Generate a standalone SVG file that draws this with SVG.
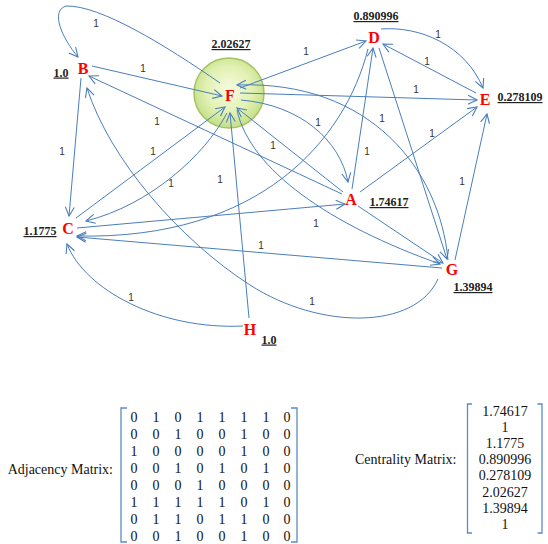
<svg xmlns="http://www.w3.org/2000/svg" width="548" height="544" viewBox="0 0 548 544">
<defs>
 <radialGradient id="gF" cx="50%" cy="45%" r="55%">
  <stop offset="0" stop-color="#f6fbe2"/>
  <stop offset="0.6" stop-color="#e2f1b2"/>
  <stop offset="1" stop-color="#c3df88"/>
 </radialGradient>
 <marker id="ar" viewBox="-10 -6 12 12" refX="0" refY="0" markerWidth="12" markerHeight="12" markerUnits="userSpaceOnUse" orient="auto">
  <path d="M-9,-4.5 L0,0 L-9,4.5" fill="none" stroke="#4a7ebb" stroke-width="1.1"/>
 </marker>
</defs>
<style>
 .e{fill:none;stroke:#4a7ebb;stroke-width:1;marker-end:url(#ar)}
 .n{font-family:"Liberation Serif",serif;font-weight:bold;font-size:16px;fill:#ff0000;text-anchor:middle}
 .v{font-family:"Liberation Serif",serif;font-weight:bold;font-size:12px;fill:#222;text-anchor:middle;text-decoration:underline}
 .w{font-family:"Liberation Sans",sans-serif;font-size:10px;fill:#333;text-anchor:middle}
 .m{font-family:"Liberation Serif",serif;font-size:14px;fill:#111;text-anchor:middle}
 .lb{font-family:"Liberation Serif",serif;font-size:14px;fill:#111}
 .br{fill:none;stroke:#5b8ac4;stroke-width:1.3}
</style>
<rect width="548" height="544" fill="#ffffff"/>
<circle id="F-circle" cx="229" cy="93" r="35" fill="url(#gF)" stroke="#a6c262" stroke-width="1.5"/>
<g id="connectors">
 <path class="e" d="M342,194 L89,76"/>
 <path class="e" d="M352,189 L373,48"/>
 <path class="e" d="M360,192 L477,107"/>
 <path class="e" d="M343,192 L237,108"/>
 <path class="e" d="M358,206 L443,263"/>
 <path class="e" d="M81,78 L69,216"/>
 <path class="e" d="M92,66 L222,96"/>
 <path class="e" d="M77,228 L345,204"/>
 <path class="e" d="M76,218 L225,107"/>
 <path class="e" d="M368,49 C345,140 260,240 77,236"/>
 <path class="e" d="M381,29 C420,26 465,45 483,88"/>
 <path class="e" d="M379,48 L447,259"/>
 <path class="e" d="M476,93 L383,44"/>
 <path class="e" d="M241,100 C300,105 340,140 348,182"/>
 <path class="e" d="M220,83 C165,45 100,5 66,6 C50,11 62,38 78,57"/>
 <path class="e" d="M227,113 C205,155 150,205 86,221"/>
 <path class="e" d="M240,88 L366,41"/>
 <path class="e" d="M240,93 L477,100"/>
 <path class="e" d="M237,110 C250,170 330,225 440,264"/>
 <path class="e" d="M438,279 C415,330 320,330 250,285 C180,240 110,160 87,88"/>
 <path class="e" d="M442,268 L77,237"/>
 <path class="e" d="M455,260 L487,114"/>
 <path class="e" d="M448,260 C440,170 370,80 237,85"/>
 <path class="e" d="M243,326 C160,330 85,290 67,244"/>
 <path class="e" d="M249,318 L230,113"/>
</g>
<g id="edge-labels">
 <text class="w" x="96" y="26.5">1</text>
 <text class="w" x="143" y="71.5">1</text>
 <text class="w" x="306" y="54.5">1</text>
 <text class="w" x="438" y="37.5">1</text>
 <text class="w" x="427" y="64.5">1</text>
 <text class="w" x="416" y="92.5">1</text>
 <text class="w" x="157" y="124.5">1</text>
 <text class="w" x="62" y="154.5">1</text>
 <text class="w" x="153" y="154.5">1</text>
 <text class="w" x="171" y="187">1</text>
 <text class="w" x="220" y="183">1</text>
 <text class="w" x="273" y="148.5">1</text>
 <text class="w" x="318" y="125.5">1</text>
 <text class="w" x="367" y="154.5">1</text>
 <text class="w" x="382" y="121.5">1</text>
 <text class="w" x="432" y="136.5">1</text>
 <text class="w" x="462" y="184.5">1</text>
 <text class="w" x="316" y="226.5">1</text>
 <text class="w" x="261" y="248.5">1</text>
 <text class="w" x="312" y="304.5">1</text>
 <text class="w" x="131" y="300.5">1</text>
</g>
<g id="node-A"><text class="n" x="351" y="204.5">A</text><text class="v" x="389" y="206">1.74617</text></g>
<g id="node-B"><text class="n" x="83" y="74">B</text><text class="v" x="61" y="76.5">1.0</text></g>
<g id="node-C"><text class="n" x="68" y="233.5">C</text><text class="v" x="40" y="235">1.1775</text></g>
<g id="node-D"><text class="n" x="374" y="42.5">D</text><text class="v" x="376" y="20">0.890996</text></g>
<g id="node-E"><text class="n" x="485" y="104.5">E</text><text class="v" x="520" y="101">0.278109</text></g>
<g id="node-F"><text class="n" x="230" y="100.5">F</text><text class="v" x="231" y="48">2.02627</text></g>
<g id="node-G"><text class="n" x="452" y="274.5">G</text><text class="v" x="473" y="291">1.39894</text></g>
<g id="node-H"><text class="n" x="250" y="334.5">H</text><text class="v" x="269" y="343.5">1.0</text></g>
<g id="adjacency-matrix">
 <text class="lb" x="113" y="474" text-anchor="end">Adjacency Matrix:</text>
 <path class="br" d="M127,408 L121,408 L121,542 L127,542"/>
 <path class="br" d="M291,408 L297,408 L297,542 L291,542"/>
 <g class="m">
  <text y="421.5"><tspan x="134">0</tspan><tspan x="156">1</tspan><tspan x="178">0</tspan><tspan x="200">1</tspan><tspan x="222">1</tspan><tspan x="244">1</tspan><tspan x="266">1</tspan><tspan x="287">0</tspan></text>
  <text y="438.5"><tspan x="134">0</tspan><tspan x="156">0</tspan><tspan x="178">1</tspan><tspan x="200">0</tspan><tspan x="222">0</tspan><tspan x="244">1</tspan><tspan x="266">0</tspan><tspan x="287">0</tspan></text>
  <text y="455.5"><tspan x="134">1</tspan><tspan x="156">0</tspan><tspan x="178">0</tspan><tspan x="200">0</tspan><tspan x="222">0</tspan><tspan x="244">1</tspan><tspan x="266">0</tspan><tspan x="287">0</tspan></text>
  <text y="472.5"><tspan x="134">0</tspan><tspan x="156">0</tspan><tspan x="178">1</tspan><tspan x="200">0</tspan><tspan x="222">1</tspan><tspan x="244">0</tspan><tspan x="266">1</tspan><tspan x="287">0</tspan></text>
  <text y="489.5"><tspan x="134">0</tspan><tspan x="156">0</tspan><tspan x="178">0</tspan><tspan x="200">1</tspan><tspan x="222">0</tspan><tspan x="244">0</tspan><tspan x="266">0</tspan><tspan x="287">0</tspan></text>
  <text y="506.5"><tspan x="134">1</tspan><tspan x="156">1</tspan><tspan x="178">1</tspan><tspan x="200">1</tspan><tspan x="222">1</tspan><tspan x="244">0</tspan><tspan x="266">1</tspan><tspan x="287">0</tspan></text>
  <text y="523.5"><tspan x="134">0</tspan><tspan x="156">1</tspan><tspan x="178">1</tspan><tspan x="200">0</tspan><tspan x="222">1</tspan><tspan x="244">1</tspan><tspan x="266">0</tspan><tspan x="287">0</tspan></text>
  <text y="540.5"><tspan x="134">0</tspan><tspan x="156">0</tspan><tspan x="178">1</tspan><tspan x="200">0</tspan><tspan x="222">0</tspan><tspan x="244">1</tspan><tspan x="266">0</tspan><tspan x="287">0</tspan></text>
 </g>
</g>
<g id="centrality-matrix">
 <text class="lb" x="355" y="464">Centrality Matrix:</text>
 <path class="br" d="M472,404 L467.5,404 L467.5,533 L472,533"/>
 <path class="br" d="M537.5,404 L542,404 L542,533 L537.5,533"/>
 <g class="m">
  <text x="505" y="415.5">1.74617</text>
  <text x="505" y="431.7">1</text>
  <text x="505" y="447.9">1.1775</text>
  <text x="505" y="464.1">0.890996</text>
  <text x="505" y="480.3">0.278109</text>
  <text x="505" y="496.5">2.02627</text>
  <text x="505" y="512.7">1.39894</text>
  <text x="505" y="528.9">1</text>
 </g>
</g>
</svg>
